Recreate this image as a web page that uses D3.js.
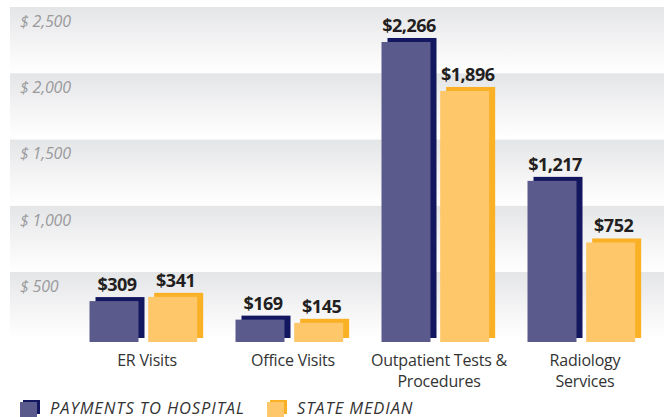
<!DOCTYPE html>
<html lang="en">
<head>
<meta charset="UTF-8">
<title>Payments chart</title>
<script src="https://cdn.jsdelivr.net/npm/d3@7/dist/d3.min.js"></script>
<style>
  body { margin: 0; background: #fff; }
  svg { display: block; }
</style>
</head>
<body>
<script>
// data
var categories = [["ER Visits"], ["Office Visits"], ["Outpatient Tests &", "Procedures"], ["Radiology", "Services"]];
var hospital = [309, 169, 2266, 1217];
var stateMedian = [341, 145, 1896, 752];
var tickValues = [500, 1000, 1500, 2000, 2500];
var seriesNames = ["PAYMENTS TO HOSPITAL", "STATE MEDIAN"];

var w = 664, h = 417;
var font = "'Open Sans', sans-serif";

// colours: front face, shadow
var colors = [
  { face: "#5b5a8c", shade: "#13175f" },
  { face: "#fdc76a", shade: "#fbb126" }
];

var svg = d3.select("body").append("svg")
  .attr("width", w)
  .attr("height", h);

var y = d3.scaleLinear().domain([0, 2500]).range([338, 7]);
var x = d3.scaleBand().domain(d3.range(categories.length)).range([74, 658]).paddingInner(0).paddingOuter(0);
var inner = d3.scaleBand().domain([0, 1]).range([0, 115]).paddingInner(0.04);

// gradient for the bands
var defs = svg.append("defs");
var grad = defs.append("linearGradient")
  .attr("id", "band")
  .attr("x1", 0).attr("y1", 0).attr("x2", 0).attr("y2", 1);
grad.append("stop").attr("offset", "0%").attr("stop-color", "#e4e5e7");
grad.append("stop").attr("offset", "55%").attr("stop-color", "#f4f4f5");
grad.append("stop").attr("offset", "100%").attr("stop-color", "#ffffff");

// background bands, one per 500
svg.selectAll("rect.band")
  .data(tickValues)
  .enter()
  .append("rect")
  .attr("class", "band")
  .attr("x", 10)
  .attr("width", w - 10)
  .attr("y", function(d) { return y(d); })
  .attr("height", function(d) { return y(d - 500) - y(d); })
  .attr("fill", "url(#band)");

// tick labels
svg.selectAll("text.tick")
  .data(tickValues)
  .enter()
  .append("text")
  .attr("class", "tick")
  .attr("x", 20)
  .attr("y", function(d) { return y(d) + 20; })
  .attr("font-family", font)
  .attr("font-style", "italic")
  .attr("font-size", "16px")
  .attr("letter-spacing", "-0.2px")
  .attr("fill", "#9a9a9c")
  .text(function(d) { return "$ " + d3.format(",")(d); });

// bars
var series = [hospital, stateMedian];
var dx = 6, dy = 4;
var barW = 49;

series.forEach(function(vals, s) {
  var g = svg.append("g");
  var groups = g.selectAll("g")
    .data(vals)
    .enter()
    .append("g")
    .attr("transform", function(d, i) {
      return "translate(" + (x(i) + (x.bandwidth() - 115) / 2 + inner(s)) + ",0)";
    });

  // shadow bar
  groups.append("rect")
    .attr("x", dx)
    .attr("y", function(d) { return y(d); })
    .attr("width", barW)
    .attr("height", function(d) { return y(0) - y(d); })
    .attr("fill", colors[s].shade);

  // front bar
  groups.append("rect")
    .attr("x", 0)
    .attr("y", function(d) { return y(d) + dy; })
    .attr("width", barW)
    .attr("height", function(d) { return y(0) - y(d); })
    .attr("fill", colors[s].face);

  // value label
  groups.append("text")
    .attr("x", (barW + dx) / 2)
    .attr("y", function(d) { return y(d) - 6; })
    .attr("text-anchor", "middle")
    .attr("font-family", font)
    .attr("font-weight", "bold")
    .attr("font-size", "18px")
    .attr("letter-spacing", "-0.5px")
    .attr("fill", "#231f20")
    .text(function(d) { return "$" + d3.format(",")(d); });
});

// category labels
var cat = svg.selectAll("text.cat")
  .data(categories)
  .enter()
  .append("text")
  .attr("class", "cat")
  .attr("text-anchor", "middle")
  .attr("font-family", font)
  .attr("font-size", "16px")
  .attr("letter-spacing", "-0.2px")
  .attr("fill", "#333")
  .attr("transform", function(d, i) {
    return "translate(" + (x(i) + x.bandwidth() / 2) + ",366)";
  });

cat.selectAll("tspan")
  .data(function(d) { return d; })
  .enter()
  .append("tspan")
  .attr("x", 0)
  .attr("dy", function(d, i) { return i === 0 ? 0 : 20.5; })
  .text(function(d) { return d; });

// legend
var legendX = [20, 267];
var legend = svg.selectAll("g.legend")
  .data(seriesNames)
  .enter()
  .append("g")
  .attr("class", "legend")
  .attr("transform", function(d, i) { return "translate(" + legendX[i] + ",0)"; });

legend.append("rect")
  .attr("x", 3).attr("y", 400)
  .attr("width", 17).attr("height", 14)
  .attr("fill", function(d, i) { return colors[i].shade; });

legend.append("rect")
  .attr("x", 0).attr("y", 402)
  .attr("width", 17).attr("height", 15)
  .attr("fill", function(d, i) { return colors[i].face; });

legend.append("text")
  .attr("x", 30)
  .attr("y", 414)
  .attr("font-family", font)
  .attr("font-style", "italic")
  .attr("font-size", "16.5px")
  .attr("letter-spacing", "0.9px")
  .attr("fill", "#333")
  .text(function(d) { return d; });
</script>
</body>
</html>
